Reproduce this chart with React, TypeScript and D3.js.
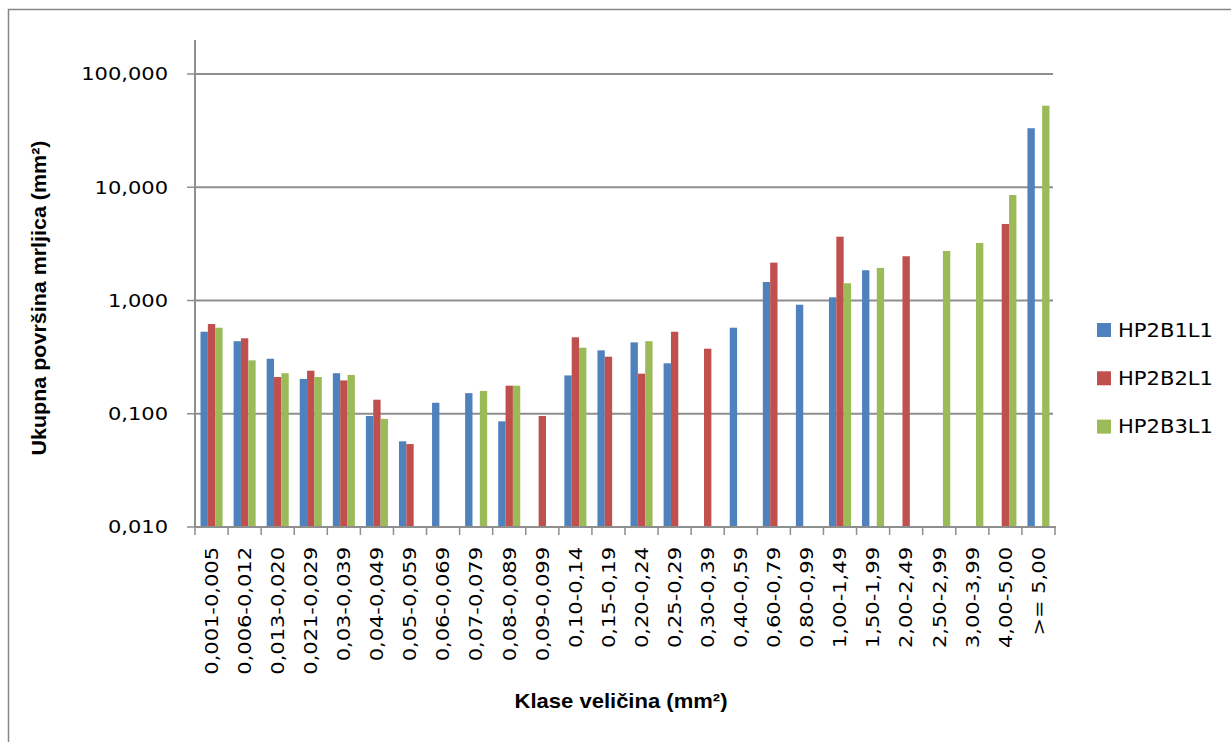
import React from "react";
import * as d3 from "d3";

const categories = [
  "0,001-0,005", "0,006-0,012", "0,013-0,020", "0,021-0,029", "0,03-0,039",
  "0,04-0,049", "0,05-0,059", "0,06-0,069", "0,07-0,079", "0,08-0,089",
  "0,09-0,099", "0,10-0,14", "0,15-0,19", "0,20-0,24", "0,25-0,29",
  "0,30-0,39", "0,40-0,59", "0,60-0,79", "0,80-0,99", "1,00-1,49",
  "1,50-1,99", "2,00-2,49", "2,50-2,99", "3,00-3,99", "4,00-5,00", ">= 5,00",
];

const seriesNames = ["HP2B1L1", "HP2B2L1", "HP2B3L1"];

const hp2b1l1: (number | null)[] = [
  0.53, 0.437, 0.306, 0.203, 0.228, 0.0955, 0.0571, 0.125, 0.152, 0.0857,
  null, 0.218, 0.363, 0.427, 0.279, null, 0.575, 1.456, 0.918, 1.067,
  1.85, null, null, null, null, 33.2,
];
const hp2b2l1: (number | null)[] = [
  0.62, 0.464, 0.211, 0.24, 0.197, 0.133, 0.054, null, null, 0.177,
  0.0955, 0.473, 0.319, 0.226, 0.53, 0.3755, null, 2.16, null, 3.66,
  null, 2.46, null, null, 4.74, null,
];
const hp2b3l1: (number | null)[] = [
  0.575, 0.296, 0.228, 0.211, 0.22, 0.09, null, null, 0.159, 0.177,
  null, 0.383, null, 0.437, null, null, null, null, null, 1.42,
  1.94, null, 2.74, 3.22, 8.54, 52.5,
];

const yTicks = [0.01, 0.1, 1, 10, 100];
const yTickLabels = ["0,010", "0,100", "1,000", "10,000", "100,000"];

const colors = ["#4F81BD", "#C0504D", "#9BBB59"];
const seriesValues = [hp2b1l1, hp2b2l1, hp2b3l1];

const W = 1231;
const H = 742;
const left = 195;
const right = 1055;
const top = 74;
const bottom = 527;

export default function App() {
  const y = d3.scaleLog().domain([0.01, 100]).range([bottom, top]);
  const x0 = d3.scaleBand<string>().domain(categories).range([left, right]).padding(0);
  const x1 = d3
    .scaleBand<string>()
    .domain(seriesNames)
    .range([0, x0.bandwidth()])
    .paddingInner(0)
    .paddingOuter(0.75);
  const axisTop = y(100) - 34;
  const grid = "#8e8e8e";
  const tickFont = "DejaVu Sans, Verdana, sans-serif";
  const titleFont = "Liberation Sans, Arial, sans-serif";

  const boundaries = d3.range(categories.length + 1).map((i) => left + i * x0.step());

  return (
    <svg
      width={W}
      height={H}
      style={{ position: "absolute", left: 0, top: 0, background: "#fff" }}
    >
      <rect x={0} y={0} width={W} height={H} fill="#fff" />
      <rect x={8.5} y={9.5} width={W + 20} height={H + 20} fill="none" stroke="#868686" strokeWidth={1.5} />

      {/* gridlines */}
      {yTicks.slice(1).map((t) => (
        <line key={t} x1={left} x2={right - 2} y1={y(t)} y2={y(t)} stroke={grid} strokeWidth={2} />
      ))}

      {/* bars */}
      {seriesValues.map((vals, si) =>
        vals.map((v, ci) =>
          v == null ? null : (
            <rect
              key={`${si}-${ci}`}
              x={(x0(categories[ci]) as number) + (x1(seriesNames[si]) as number)}
              y={y(v)}
              width={x1.bandwidth()}
              height={bottom - y(v)}
              fill={colors[si]}
            />
          )
        )
      )}

      {/* y axis */}
      <line x1={left} x2={left} y1={axisTop} y2={bottom} stroke={grid} strokeWidth={2} />
      {yTicks.map((t, i) => (
        <g key={t}>
          <line x1={left - 8} x2={left} y1={y(t)} y2={y(t)} stroke={grid} strokeWidth={1.5} />
          <text
            transform={`translate(168,${y(t)}) scale(1.2,1)`}
            textAnchor="end"
            dy="0.36em"
            fontFamily={tickFont}
            fontSize={17.5}
            fill="#000"
          >
            {yTickLabels[i]}
          </text>
        </g>
      ))}

      {/* x axis */}
      <line x1={left - 1} x2={right + 1} y1={bottom} y2={bottom} stroke={grid} strokeWidth={2} />
      {boundaries.map((bx, i) => (
        <line key={i} x1={bx} x2={bx} y1={bottom} y2={bottom + 8} stroke={grid} strokeWidth={1.5} />
      ))}
      {categories.map((c) => {
        const cx = (x0(c) as number) + x0.bandwidth() / 2;
        return (
          <text
            key={c}
            transform={`translate(${cx},547) rotate(-90) scale(1.2,1)`}
            textAnchor="end"
            dy="0.36em"
            fontFamily={tickFont}
            fontSize={17.5}
            fill="#000"
          >
            {c}
          </text>
        );
      })}

      {/* axis titles */}
      <text
        x={621}
        y={708}
        textAnchor="middle"
        fontFamily={titleFont}
        fontWeight="bold"
        fontSize={21}
        textLength={213}
        lengthAdjust="spacingAndGlyphs"
      >
        Klase veličina (mm²)
      </text>
      <text
        transform="translate(46,298) rotate(-90)"
        textAnchor="middle"
        fontFamily={titleFont}
        fontWeight="bold"
        fontSize={21}
        textLength={315}
        lengthAdjust="spacingAndGlyphs"
      >
        Ukupna površina mrljica (mm²)
      </text>

      {/* legend */}
      {seriesNames.map((s, i) => {
        const cy = 330 + i * 48.3;
        return (
          <g key={s}>
            <rect x={1097} y={cy - 7} width={14} height={14} fill={colors[i]} />
            <text
              transform={`translate(1118,${cy}) scale(1.11,1)`}
              dy="0.36em"
              fontFamily={tickFont}
              fontSize={19}
              fill="#000"
            >
              {s}
            </text>
          </g>
        );
      })}
    </svg>
  );
}
